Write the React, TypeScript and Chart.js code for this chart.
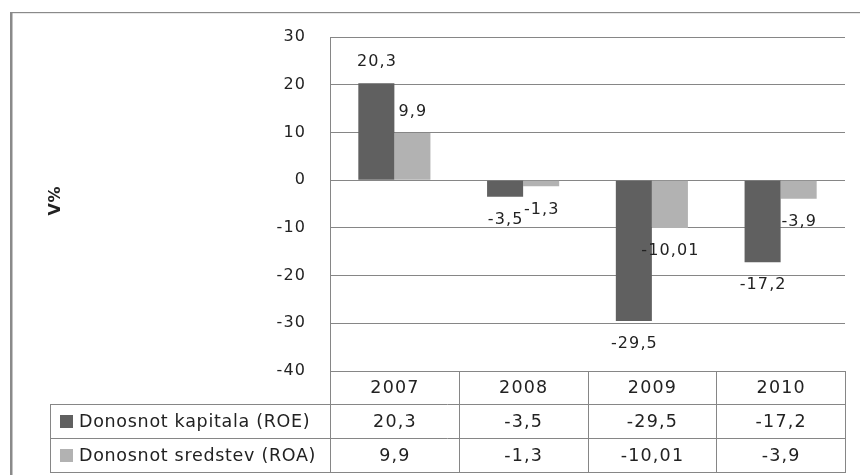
import React, { useEffect, useRef } from "react";
import { Chart, registerables } from "chart.js";

Chart.register(...registerables);

// Years on the category axis
const years: string[] = ["2007", "2008", "2009", "2010"];

// Return on equity and return on assets, in %
const roeLabel = "Donosnot kapitala (ROE)";
const roaLabel = "Donosnot sredstev (ROA)";
const roeValues: number[] = [20.3, -3.5, -29.5, -17.2];
const roaValues: number[] = [9.9, -1.3, -10.01, -3.9];

// Value axis
const yMin = -40;
const yMax = 30;
const yStep = 10;
const yTitle = "V%";

const ROE_COLOR = "#606060";
const ROA_COLOR = "#b2b2b2";
const LINE_COLOR = "#868686";
const TEXT_COLOR = "#222222";
const FONT = "'DejaVu Sans', Verdana, sans-serif";

// Decimal comma, as used in Slovenian
const fmt = (v: number) => String(v).replace(".", ",");

function setSpacing(ctx: CanvasRenderingContext2D, px: number) {
  (ctx as any).letterSpacing = `${px}px`;
}

// Text with letter spacing, aligned without the trailing spacing
function drawText(
  ctx: CanvasRenderingContext2D,
  text: string,
  x: number,
  y: number,
  align: "left" | "center" | "right",
  spacing: number
) {
  setSpacing(ctx, spacing);
  ctx.textAlign = "left";
  const w = ctx.measureText(text).width - spacing;
  let sx = x;
  if (align === "center") sx = x - w / 2;
  else if (align === "right") sx = x - w;
  ctx.fillText(text, sx, y);
  setSpacing(ctx, 0);
}

const framePlugin = {
  id: "frame",
  beforeDraw(chart: any) {
    const ctx: CanvasRenderingContext2D = chart.ctx;
    ctx.save();
    ctx.fillStyle = "#ffffff";
    ctx.fillRect(0, 0, chart.width, chart.height);
    ctx.fillStyle = "#8a8a8a";
    ctx.fillRect(10, 12, 2.5, chart.height - 12);
    ctx.fillRect(10, 12, chart.width - 10, 1.2);
    ctx.restore();
  },
};

const axisTextPlugin = {
  id: "axisText",
  afterDraw(chart: any) {
    const ctx: CanvasRenderingContext2D = chart.ctx;
    const y = chart.scales.y;
    ctx.save();
    ctx.fillStyle = TEXT_COLOR;
    ctx.font = `16px ${FONT}`;
    ctx.textBaseline = "middle";
    y.ticks.forEach((t: any) => {
      drawText(ctx, String(t.value), 305, y.getPixelForValue(t.value), "right", 1.2);
    });
    // Axis title, rotated
    ctx.translate(56, 201);
    ctx.rotate(-Math.PI / 2);
    ctx.font = `bold 16px ${FONT}`;
    drawText(ctx, yTitle, 0, 0, "center", 0.5);
    ctx.restore();
  },
};

const valueLabelPlugin = {
  id: "valueLabels",
  afterDatasetsDraw(chart: any) {
    const ctx: CanvasRenderingContext2D = chart.ctx;
    ctx.save();
    ctx.fillStyle = TEXT_COLOR;
    ctx.font = `16px ${FONT}`;
    ctx.textBaseline = "middle";
    chart.data.datasets.forEach((ds: any, i: number) => {
      const meta = chart.getDatasetMeta(i);
      meta.data.forEach((bar: any, j: number) => {
        const v = ds.data[j] as number;
        const ty = v >= 0 ? bar.y - 21 : bar.y + 23;
        drawText(ctx, fmt(v), bar.x, ty, "center", 1.1);
      });
    });
    ctx.restore();
  },
};

const dataTablePlugin = {
  id: "dataTable",
  afterDraw(chart: any) {
    const ctx: CanvasRenderingContext2D = chart.ctx;
    const area = chart.chartArea;
    const x = chart.scales.x;
    const n = years.length;
    const colW = (area.right - area.left) / n;
    const top = area.bottom;
    const rows = [top, top + 33, top + 67, top + 101];
    const legendLeft = 50;

    ctx.save();
    ctx.strokeStyle = LINE_COLOR;
    ctx.lineWidth = 1;
    const h = (y: number, x0: number, x1: number) => {
      ctx.beginPath();
      ctx.moveTo(x0, Math.round(y) + 0.5);
      ctx.lineTo(x1, Math.round(y) + 0.5);
      ctx.stroke();
    };
    const v = (xx: number, y0: number, y1: number) => {
      ctx.beginPath();
      ctx.moveTo(Math.round(xx) + 0.5, y0);
      ctx.lineTo(Math.round(xx) + 0.5, y1);
      ctx.stroke();
    };
    h(rows[1], legendLeft, area.right);
    h(rows[2], legendLeft, area.right);
    h(rows[3], legendLeft, area.right + 1);
    for (let k = 0; k <= n; k++) v(area.left + k * colW, top, rows[3]);
    v(legendLeft, rows[1], rows[3]);

    ctx.fillStyle = TEXT_COLOR;
    ctx.font = `17.5px ${FONT}`;
    ctx.textBaseline = "middle";
    years.forEach((yr, k) => {
      const cx = x.getPixelForValue(k);
      drawText(ctx, yr, cx, (rows[0] + rows[1]) / 2 + 1, "center", 1.2);
    });

    const series = [
      { label: roeLabel, color: ROE_COLOR, values: roeValues },
      { label: roaLabel, color: ROA_COLOR, values: roaValues },
    ];
    series.forEach((s, r) => {
      const cy = (rows[r + 1] + rows[r + 2]) / 2;
      ctx.fillStyle = s.color;
      ctx.fillRect(60, Math.round(cy - 6), 13, 13);
      ctx.fillStyle = TEXT_COLOR;
      drawText(ctx, s.label, 79, cy + 1, "left", 0.7);
      s.values.forEach((val, k) => {
        drawText(ctx, fmt(val), x.getPixelForValue(k), cy + 1, "center", 1.2);
      });
    });
    ctx.restore();
  },
};

export default function App() {
  const canvasRef = useRef<HTMLCanvasElement | null>(null);

  useEffect(() => {
    document.body.style.margin = "0";
    const canvas = canvasRef.current;
    if (!canvas) return;
    const chart = new Chart(canvas, {
      type: "bar",
      data: {
        labels: years,
        datasets: [
          {
            label: roeLabel,
            data: roeValues,
            backgroundColor: ROE_COLOR,
            barPercentage: 1,
            categoryPercentage: 0.56,
          },
          {
            label: roaLabel,
            data: roaValues,
            backgroundColor: ROA_COLOR,
            barPercentage: 1,
            categoryPercentage: 0.56,
          },
        ],
      },
      options: {
        responsive: false,
        animation: false,
        devicePixelRatio: 1,
        layout: { padding: { top: 37, right: 15, bottom: 104, left: 0 } },
        plugins: {
          legend: { display: false },
          tooltip: { enabled: false },
          title: { display: false },
        },
        scales: {
          x: {
            display: false,
            offset: true,
            grid: { display: false },
          },
          y: {
            min: yMin,
            max: yMax,
            ticks: { stepSize: yStep, display: false },
            grid: { color: LINE_COLOR, lineWidth: 1, drawTicks: false },
            border: { display: true, color: LINE_COLOR, width: 1 },
            afterFit: (scale: any) => {
              scale.width = 330;
            },
          },
        },
      },
      plugins: [framePlugin, valueLabelPlugin, dataTablePlugin, axisTextPlugin],
    });
    return () => chart.destroy();
  }, []);

  return (
    <div style={{ width: 860, height: 475 }}>
      <canvas ref={canvasRef} width={860} height={475} style={{ display: "block" }} />
    </div>
  );
}
